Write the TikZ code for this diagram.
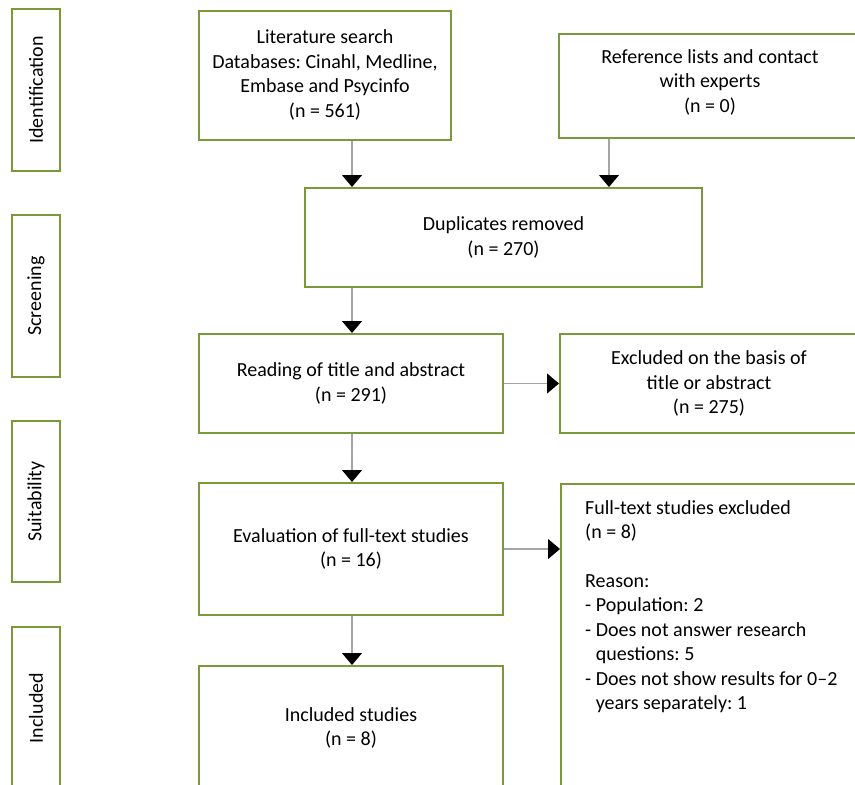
\documentclass[tikz,border=0pt]{standalone}
\usepackage{fontspec}
\setmainfont{Carlito}
\frenchspacing
\usetikzlibrary{arrows.meta}
\definecolor{boxgreen}{RGB}{122,154,58}
\definecolor{linegray}{RGB}{165,165,165}
\tikzset{
  flowbox/.style={draw=boxgreen, line width=2pt, fill=white, inner sep=0pt, align=center,
    font=\fontsize{20}{24.5}\selectfont},
  phasebox/.style={draw=boxgreen, line width=2pt, fill=white, inner sep=0pt,
    minimum width=48pt, minimum height=162pt},
  phaselabel/.style={rotate=90, font=\fontsize{20}{22}\selectfont},
  flowarrow/.style={draw=linegray, line width=1.2pt, -{Triangle[width=20pt,length=12pt,fill=black,color=black]}},
}
\begin{document}
\begin{tikzpicture}[x=1pt,y=-1pt]
\clip (0,0) rectangle (855,785);
\fill[white] (0,0) rectangle (855,785);
% phase boxes
\node[phasebox] (pid) at (36,90) {};
\node[phaselabel] (pidt) at (pid.center) {Identification};
\node[phasebox] (pscr) at (36,296) {};
\node[phaselabel] (pscrt) at (pscr.center) {Screening};
\node[phasebox, minimum height=161pt] (psuit) at (36,501.5) {};
\node[phaselabel] (psuitt) at (psuit.center) {Suitability};
\node[phasebox] (pinc) at (36,708) {};
\node[phaselabel] (pinct) at (pinc.center) {Included};
% flow boxes
\node[flowbox, minimum width=252pt, minimum height=129pt] (lit) at (325,75)
  {Literature search\\Databases: Cinahl, Medline,\\Embase and Psycinfo\\(n = 561)};
\node[flowbox, minimum width=302pt, minimum height=104pt, text depth=10pt] (ref) at (710,86)
  {Reference lists and contact\\with experts\\(n = 0)};
\node[flowbox, minimum width=397pt, minimum height=99pt] (dup) at (503.5,237.5)
  {Duplicates removed\\(n = 270)};
\node[flowbox, minimum width=304pt, minimum height=99pt] (read) at (351,383.5)
  {Reading of title and abstract\\(n = 291)};
\node[flowbox, minimum width=298pt, minimum height=99pt] (excl) at (709,383.5)
  {Excluded on the basis of\\title or abstract\\(n = 275)};
\node[flowbox, minimum width=304pt, minimum height=132pt] (eval) at (351,549)
  {Evaluation of full-text studies\\(n = 16)};
\node[flowbox, minimum width=304pt, minimum height=124pt] (incl) at (351,728)
  {Included studies\\(n = 8)};
\node[flowbox, minimum width=300pt, minimum height=320pt, anchor=north west] (full) at (560,483) {};
\node[anchor=north west, align=left, inner sep=0pt, font=\fontsize{20}{24.5}\selectfont] (fullt) at (585,500)
  {Full-text studies excluded\\(n = 8)\\[24pt]Reason:\\- Population: 2\\- Does not answer research\\\hphantom{- }questions: 5\\- Does not show results for 0--2\\\hphantom{- }years separately: 1};
% arrows
\coordinate (a1) at (352,138);
\coordinate (a2) at (609,138);
\draw[flowarrow] (lit.south -| a1) -- (dup.north -| a1);
\draw[flowarrow] (ref.south -| a2) -- (dup.north -| a2);
\draw[flowarrow] (dup.south -| a1) -- (read.north -| a1);
\draw[flowarrow] (read.east) -- (excl.west);
\draw[flowarrow] (read.south -| a1) -- (eval.north -| a1);
\draw[flowarrow] (eval.east) -- (eval.east -| full.west);
\draw[flowarrow] (eval.south -| a1) -- (incl.north -| a1);
\end{tikzpicture}
\end{document}
